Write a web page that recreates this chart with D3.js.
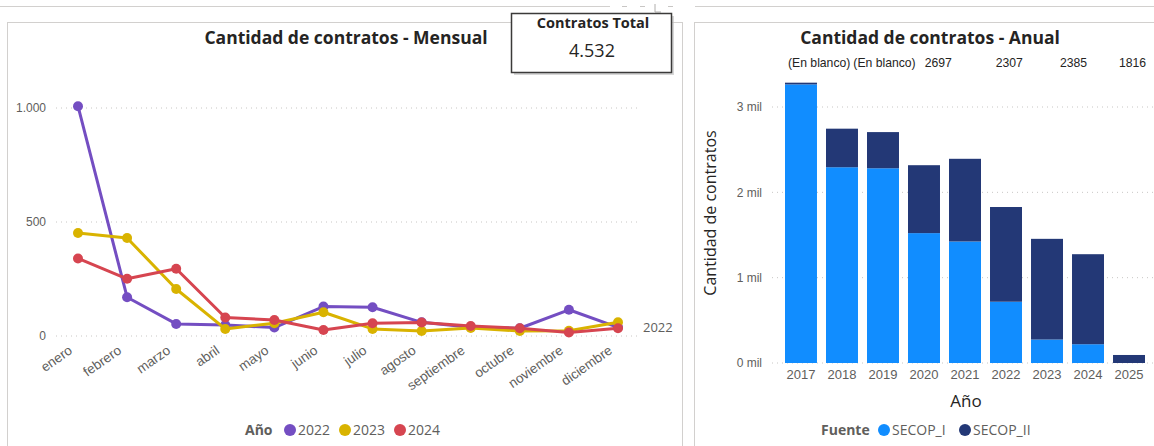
<!DOCTYPE html>
<meta charset="utf-8">
<style>
body { margin: 0; background: #fff; }
svg { font-family: "Segoe UI", "Open Sans", sans-serif; }
.tick text { fill: #605E5C; }
.grid line { stroke: #c8c6c4; stroke-dasharray: 1 4; }
</style>
<svg width="1154" height="446"></svg>
<script src="https://d3js.org/d3.v7.min.js"></script>
<script>

// ---- datos mensuales ----
var months = ["enero", "febrero", "marzo", "abril", "mayo", "junio", "julio",
              "agosto", "septiembre", "octubre", "noviembre", "diciembre"];
var y2022 = [1008, 170, 53, 48, 37, 129, 126, 60, 38, 34, 115, 38];
var y2023 = [452, 430, 206, 31, 56, 104, 31, 22, 35, 22, 23, 60];
var y2024 = [340, 251, 295, 81, 70, 26, 56, 59, 44, 34, 15, 34];
var seriesNames = ["2022", "2023", "2024"];
var seriesColors = ["#744EC2", "#D9B300", "#D64550"];
var monthTicks = [0, 500, 1000];

// ---- datos anuales ----
var years = ["2017", "2018", "2019", "2020", "2021", "2022", "2023", "2024", "2025"];
var secopI = [3265, 2294, 2282, 1522, 1424, 718, 275, 220, 0];
var secopII = [20, 452, 424, 796, 969, 1110, 1180, 1055, 94];
var fuentes = ["SECOP_I", "SECOP_II"];
var fuenteColors = ["#118DFF", "#233876"];
var yearTicks = [0, 1000, 2000, 3000];
var headerLabels = ["(En blanco)", "(En blanco)", "2697", "2307", "2385", "1816"];

var totalContratos = "4.532";

var svg = d3.select("svg");

// marco superior y paneles
svg.append("line").attr("x1", 0).attr("x2", 610).attr("y1", 6.5).attr("y2", 6.5)
    .attr("stroke", "#d2d0ce");
svg.append("line").attr("x1", 695).attr("x2", 1154).attr("y1", 6.5).attr("y2", 6.5)
    .attr("stroke", "#d2d0ce");
svg.append("g").attr("stroke", "#c8c6c4")
  .selectAll("line").data([622, 640, 668]).enter().append("line")
    .attr("x1", d => d).attr("x2", d => d + 5).attr("y1", 6.5).attr("y2", 6.5);
svg.append("path").attr("d", "M655,4V12H661").attr("fill", "none").attr("stroke", "#b0aeac");

svg.append("rect").attr("x", 7.5).attr("y", 22.5).attr("width", 675).attr("height", 440)
    .attr("fill", "none").attr("stroke", "#d2d0ce");
svg.append("rect").attr("x", 694.5).attr("y", 22.5).attr("width", 480).attr("height", 440)
    .attr("fill", "none").attr("stroke", "#d2d0ce");

// ================= Mensual =================
var xM = d3.scalePoint().domain(months).range([78, 618]);
var yM = d3.scaleLinear().domain([0, 1000]).range([336, 108]);
var fmtMiles = d3.formatLocale({decimal: ",", thousands: ".", grouping: [3], currency: ["$", ""]}).format(",d");

svg.append("text").attr("x", 346).attr("y", 44).attr("text-anchor", "middle")
    .attr("font-size", 17.5).attr("font-weight", "bold").attr("fill", "#252423")
    .text("Cantidad de contratos - Mensual");

var gridM = svg.append("g").attr("class", "grid");
gridM.selectAll("line").data(monthTicks).enter().append("line")
    .attr("x1", 56).attr("x2", 638)
    .attr("y1", d => yM(d)).attr("y2", d => yM(d));

var yAxisM = svg.append("g").attr("transform", "translate(50,0)")
    .call(d3.axisLeft(yM).tickValues(monthTicks).tickFormat(fmtMiles).tickSize(0));
yAxisM.select(".domain").remove();
yAxisM.selectAll("text").attr("font-size", 12).attr("x", -4);

var xAxisM = svg.append("g").attr("transform", "translate(0,336)")
    .call(d3.axisBottom(xM).tickSize(0));
xAxisM.select(".domain").remove();
xAxisM.selectAll("text")
    .attr("font-size", 13.5)
    .attr("text-anchor", "end")
    .attr("dy", 0)
    .attr("transform", "translate(-7,14) rotate(-35)");

var lineM = d3.line().x((d, i) => xM(months[i])).y(d => yM(d));
var seriesM = [y2022, y2023, y2024];

seriesM.forEach(function(vals, k) {
  var g = svg.append("g");
  g.append("path").datum(vals)
      .attr("fill", "none").attr("stroke", seriesColors[k])
      .attr("stroke-width", 3).attr("stroke-linejoin", "round")
      .attr("d", lineM);
  g.selectAll("circle").data(vals).enter().append("circle")
      .attr("cx", (d, i) => xM(months[i])).attr("cy", d => yM(d))
      .attr("r", 5).attr("fill", seriesColors[k]);
});

// etiqueta de serie al final
svg.append("text").attr("x", 643).attr("y", yM(y2022[11]) + 5)
    .attr("font-size", 13).attr("fill", "#605E5C").text(seriesNames[0]);

// leyenda mensual
var legM = svg.append("g").attr("transform", "translate(245,430)");
legM.append("text").attr("y", 5).attr("font-size", 14).attr("font-weight", "bold")
    .attr("fill", "#605E5C").text("Año");
var legItems = legM.selectAll("g.item").data(seriesNames).enter().append("g")
    .attr("class", "item")
    .attr("transform", (d, i) => "translate(" + (45 + i * 55) + ",0)");
legItems.append("circle").attr("r", 6).attr("fill", (d, i) => seriesColors[i]);
legItems.append("text").attr("x", 8).attr("y", 5).attr("font-size", 14)
    .attr("fill", "#605E5C").text(d => d);

// tarjeta total
var card = svg.append("g");
card.append("rect").attr("x", 514).attr("y", 16).attr("width", 160).attr("height", 59)
    .attr("fill", "#bdbdbd").attr("opacity", 0.6);
card.append("rect").attr("x", 511.5).attr("y", 13.5).attr("width", 160).attr("height", 59)
    .attr("fill", "#fff").attr("stroke", "#3b3a39").attr("stroke-width", 1.5);
card.append("text").attr("x", 593).attr("y", 28).attr("text-anchor", "middle")
    .attr("font-size", 14.5).attr("font-weight", "bold").attr("fill", "#252423")
    .text("Contratos Total");
card.append("text").attr("x", 592).attr("y", 57).attr("text-anchor", "middle")
    .attr("font-size", 18).attr("fill", "#252423").text(totalContratos);

// ================= Anual =================
var xA = d3.scaleBand().domain(years).range([785, 1145]).paddingInner(0.22).paddingOuter(0);
var yA = d3.scaleLinear().domain([0, 3000]).range([363, 107]);

svg.append("text").attr("x", 930).attr("y", 44).attr("text-anchor", "middle")
    .attr("font-size", 17.5).attr("font-weight", "bold").attr("fill", "#252423")
    .text("Cantidad de contratos - Anual");

// fila de etiquetas superiores
var hx = xA("2017") + 3;
var hGaps = [3, 9, 44, 37, 32, 0];
var headG = svg.append("g");
headerLabels.forEach(function(t, i) {
  var el = headG.append("text").attr("x", hx).attr("y", 67)
      .attr("font-family", "Liberation Sans, Arial, sans-serif")
      .attr("font-size", 12.2).attr("fill", "#252423").text(t);
  hx += el.node().getComputedTextLength() + hGaps[i];
});

var gridA = svg.append("g").attr("class", "grid");
gridA.selectAll("line").data(yearTicks).enter().append("line")
    .attr("x1", 772).attr("x2", 1154)
    .attr("y1", d => yA(d)).attr("y2", d => yA(d));

var yAxisA = svg.append("g").attr("transform", "translate(766,0)")
    .call(d3.axisLeft(yA).tickValues(yearTicks).tickFormat(d => (d / 1000) + " mil").tickSize(0));
yAxisA.select(".domain").remove();
yAxisA.selectAll("text").attr("font-size", 12).attr("x", -4);

svg.append("text").attr("transform", "translate(716,213) rotate(-90)")
    .attr("text-anchor", "middle").attr("font-size", 16).attr("fill", "#252423")
    .text("Cantidad de contratos");

var stackData = years.map((y, i) => ({year: y, SECOP_I: secopI[i], SECOP_II: secopII[i]}));
var stacked = d3.stack().keys(fuentes)(stackData);

svg.append("g").selectAll("g").data(stacked).enter().append("g")
    .attr("fill", (d, i) => fuenteColors[i])
  .selectAll("rect").data(d => d).enter().append("rect")
    .attr("x", d => xA(d.data.year))
    .attr("width", xA.bandwidth())
    .attr("y", d => yA(d[1]))
    .attr("height", d => yA(d[0]) - yA(d[1]));

var xAxisA = svg.append("g").attr("transform", "translate(0,363)")
    .call(d3.axisBottom(xA).tickSize(0));
xAxisA.select(".domain").remove();
xAxisA.selectAll("text").attr("font-size", 13).attr("dy", "0.71em").attr("y", 7);

svg.append("text").attr("x", 966).attr("y", 407).attr("text-anchor", "middle")
    .attr("font-size", 17).attr("fill", "#252423").text("Año");

// leyenda anual
var legA = svg.append("g").attr("transform", "translate(821,430)");
legA.append("text").attr("y", 5).attr("font-size", 14).attr("font-weight", "bold")
    .attr("fill", "#605E5C").text("Fuente");
var legAItems = legA.selectAll("g.item").data(fuentes).enter().append("g")
    .attr("class", "item")
    .attr("transform", (d, i) => "translate(" + (63 + i * 81) + ",0)");
legAItems.append("circle").attr("r", 6).attr("fill", (d, i) => fuenteColors[i]);
legAItems.append("text").attr("x", 8).attr("y", 5).attr("font-size", 14)
    .attr("fill", "#605E5C").text(d => d);

</script>
